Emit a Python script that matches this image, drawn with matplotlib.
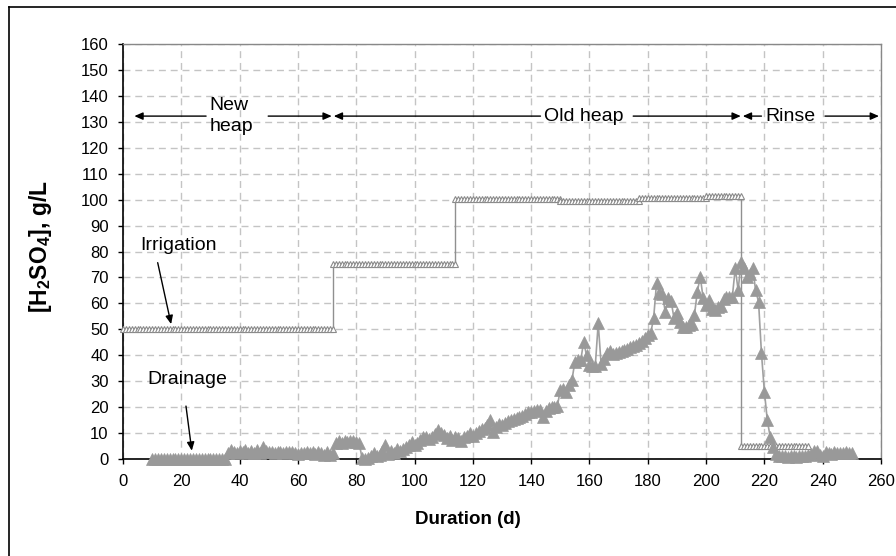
import numpy as np
import matplotlib
matplotlib.use("Agg")
import matplotlib.pyplot as plt
from matplotlib.lines import Line2D

plt.rcParams['font.family'] = ['Liberation Sans', 'DejaVu Sans']
plt.rcParams['mathtext.fontset'] = 'custom'
plt.rcParams['mathtext.rm'] = 'Liberation Sans'
plt.rcParams['mathtext.bf'] = 'Liberation Sans:bold'

# ---- data ----
# Irrigation acid concentration: piecewise constant segments (start day, end day, level g/L)
irr_seg_start = [0, 72, 114, 150, 177, 200, 212]
irr_seg_end = [72, 114, 150, 177, 200, 212, 235]
irr_seg_level = [50, 75, 100.2, 99.3, 100.5, 101.5, 5]

# Drainage acid concentration (day, g/L)
drain_days = [10, 11, 12, 13, 14, 15, 16, 17, 18, 19, 20, 21, 22, 23, 24, 25, 26, 27, 28, 29,
              30, 31, 32, 33, 34, 35,
              36, 37, 38, 39, 40, 41, 42, 43, 44, 45, 46, 47, 48, 49, 50, 51, 52, 53, 54, 55,
              56, 57, 58, 59, 60, 61, 62, 63, 64, 65, 66, 67, 68, 69, 70, 71, 72,
              73, 74, 75, 76, 77, 78, 79, 80, 81, 82, 83, 84, 85, 86, 87, 88, 89, 90, 91, 92,
              93, 94, 95, 96, 97, 98, 99, 100, 101, 102, 103, 104, 105, 106, 107, 108, 109, 110,
              111, 112, 113, 114, 115, 116, 117, 118, 119, 120, 121, 122, 123, 124, 125, 126,
              127, 128, 129, 130, 131, 132, 133, 134, 135, 136, 137, 138, 139, 140, 141, 142,
              143, 144, 145, 146, 147, 148, 149, 150, 151, 152, 153, 154, 155, 156, 157, 158,
              159, 160, 161, 162, 163, 164, 165, 166, 167, 168, 169, 170, 171, 172, 173, 174,
              175, 176, 177, 178, 179, 180, 181, 182, 183, 184, 185, 186, 187, 188, 189, 190,
              191, 192, 193, 194, 195, 196, 197, 198, 199, 200, 201, 202, 203, 204, 205, 206,
              207, 208, 209, 210, 211, 212, 213, 214, 215, 216, 217, 218, 219, 220, 221, 222,
              223, 224, 225, 226, 227, 228, 229, 230, 231, 232, 233, 234, 235, 236, 237, 238,
              239, 240, 241, 242, 243, 244, 245, 246, 247, 248, 249, 250]
drain_vals = [0, 0, 0, 0, 0, 0, 0, 0, 0, 0, 0, 0, 0, 0, 0, 0, 0, 0, 0, 0,
              0, 0, 0, 0, 0, 0,
              2.5, 3.5, 2.8, 2.2, 3.0, 2.6, 3.4, 2.4, 3.1, 2.2, 3.6, 2.5, 4.6, 3.0, 2.6, 2.8,
              2.5, 2.7, 2.6, 2.5, 2.8, 2.6, 2.7, 2.4, 1.8, 2.5, 2.3, 2.7, 2.2, 2.6, 2.0, 2.6,
              2.3, 1.5, 2.7, 1.6, 2.2,
              6.0, 6.8, 6.3, 7.0, 6.6, 7.1, 6.8, 6.5, 6.2, 0.3, 0.0, 0.5, 1.0, 2.5, 1.3, 1.5,
              3.0, 5.5, 2.0, 3.0, 2.5, 3.8, 3.2, 4.0, 4.5, 5.5, 6.7, 5.5, 6.0, 7.5, 8.5, 8.6,
              7.8, 8.5, 9.5, 11.2, 10.0, 9.3, 8.0, 9.0, 7.5, 8.5, 8.0, 7.0, 8.5, 9.0, 9.9, 9.0,
              10.2, 10.8, 11.5, 12.0, 13.0, 15.0, 10.5, 12.5, 13.5, 13.0, 14.0, 14.5, 15.0,
              15.5, 16.0, 16.3, 16.5, 17.5, 18.0, 18.3, 18.5, 19.0, 18.8, 16.3, 18.5, 19.5,
              20.0, 20.2, 20.6, 26.5, 27.0, 25.9, 28.5, 30.5, 37.5, 38.2, 38.0, 45.2, 40.0,
              36.4, 35.8, 36.0, 52.3, 36.5, 38.5, 40.7, 41.5, 40.5, 41.0, 41.2, 41.5, 42.0,
              42.5, 43.0, 43.5, 44.0, 44.6, 45.5, 46.5, 47.8, 48.5, 54.2, 67.7, 63.9, 63.5,
              56.8, 62.0, 61.0, 54.2, 56.2, 53.0, 51.0, 51.0, 51.5, 52.0, 55.5, 64.5, 70.3,
              62.0, 59.4, 61.4, 58.0, 57.5, 58.5, 59.0, 61.5, 62.5, 62.6, 62.5, 73.5, 65.1,
              76.0, 73.5, 70.3, 71.5, 73.5, 65.0, 60.6, 40.7, 26.0, 15.0, 8.4, 4.7, 2.0, 1.2,
              1.0, 1.3, 0.8, 1.0, 1.2, 0.9, 1.0, 1.3, 1.1, 1.5, 2.0, 3.0, 3.2, 1.5, 1.2, 2.8,
              2.5, 2.0, 2.6, 2.2, 2.5, 2.3, 2.8, 2.2, 2.5]

x_ticks = list(range(0, 261, 20))
y_ticks = list(range(0, 161, 10))

# build irrigation points (one per day within each segment)
irr_days, irr_vals = [], []
for s, e, lv in zip(irr_seg_start, irr_seg_end, irr_seg_level):
    d = np.arange(s, e + 1)
    irr_days.extend(d.tolist())
    irr_vals.extend([lv] * len(d))

# ---- figure ----
fig = plt.figure(figsize=(8.96, 5.56), dpi=100)
ax = fig.add_axes([123 / 896, 1 - 459 / 556, (881 - 123) / 896, (459 - 44) / 556])

ax.plot(irr_days, irr_vals, color='#909090', lw=1.0, marker='^', markersize=5,
        markerfacecolor='white', markeredgecolor='#8a8a8a', markeredgewidth=0.8,
        clip_on=False, zorder=3)
ax.plot(drain_days, drain_vals, color='#a0a0a0', lw=1.2, marker='^', markersize=8.5,
        markerfacecolor='#999999', markeredgecolor='#999999', markeredgewidth=0.5,
        clip_on=False, zorder=4)

ax.set_xlim(0, 260)
ax.set_ylim(0, 160)
ax.set_xticks(x_ticks)
ax.set_yticks(y_ticks)
ax.tick_params(axis='both', direction='out', length=3.8, width=1, labelsize=12,
               colors='black')
ax.tick_params(axis='x', pad=7)
ax.tick_params(axis='y', pad=6.5)
ax.grid(True, color='#c4c4c4', linestyle=(0, (5, 3.5)), linewidth=1.0)
ax.set_axisbelow(True)
for s in ['top', 'right']:
    ax.spines[s].set_color('#888888')
    ax.spines[s].set_linewidth(1.0)
for s in ['left', 'bottom']:
    ax.spines[s].set_color('black')
    ax.spines[s].set_linewidth(1.2)

fig.text(468 / 896, 1 - 519 / 556, 'Duration (d)', fontsize=13.5, fontweight='bold',
         ha='center', va='center')
fig.text(41 / 896, 1 - 247 / 556, r'[H$_\mathbf{2}$SO$_\mathbf{4}$], g/L', fontsize=16.5,
         fontweight='bold', rotation=90, ha='center', va='center')

# ---- period arrows ----
ya = 132.2
akw = dict(arrowstyle='-|>,head_length=0.5,head_width=0.22', color='black', lw=1.0,
           shrinkA=0, shrinkB=0)
ax.annotate('', xy=(3.9, ya), xytext=(28.5, ya), arrowprops=akw, annotation_clip=False)
ax.annotate('', xy=(71.6, ya), xytext=(49.8, ya), arrowprops=akw, annotation_clip=False)
ax.text(29.6, ya, 'New\nheap', fontsize=14, ha='left', va='center', linespacing=1.25)

ax.annotate('', xy=(72.3, ya), xytext=(143.2, ya), arrowprops=akw, annotation_clip=False)
ax.annotate('', xy=(211.9, ya), xytext=(175.0, ya), arrowprops=akw, annotation_clip=False)
ax.text(158.0, ya, 'Old heap', fontsize=14, ha='center', va='center')

ax.annotate('', xy=(212.6, ya), xytext=(219.0, ya), arrowprops=akw, annotation_clip=False)
ax.annotate('', xy=(259.3, ya), xytext=(240.8, ya), arrowprops=akw, annotation_clip=False)
ax.text(229.0, ya, 'Rinse', fontsize=14, ha='center', va='center')

# ---- series labels ----
ax.text(18.9, 82.3, 'Irrigation', fontsize=14, ha='center', va='center')
ax.annotate('', xy=(16.5, 52.0), xytext=(11.9, 75.7), arrowprops=akw)
ax.text(22.1, 30.6, 'Drainage', fontsize=14, ha='center', va='center')
ax.annotate('', xy=(23.6, 3.2), xytext=(21.6, 20.4), arrowprops=akw)

# outer frame (left and top edges visible)
fig.add_artist(Line2D([9 / 896, 9 / 896], [0, 1 - 7 / 556], color='black', lw=1.2,
                      transform=fig.transFigure))
fig.add_artist(Line2D([9 / 896, 1], [1 - 7 / 556, 1 - 7 / 556], color='black', lw=1.2,
                      transform=fig.transFigure))

fig.savefig('out.png', dpi=100)
